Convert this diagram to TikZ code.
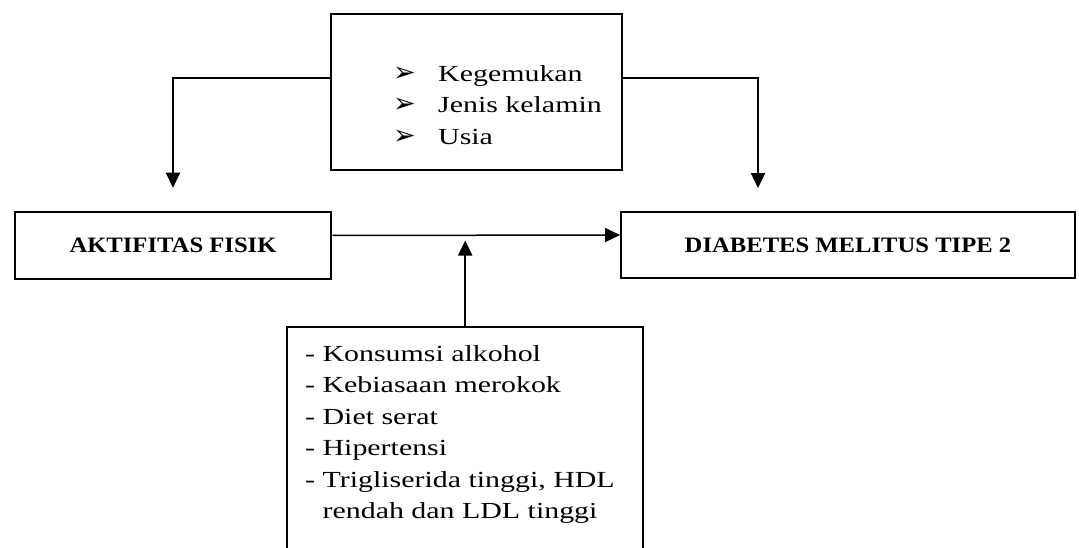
\documentclass[tikz,border=0pt]{standalone}
\usepackage{fontspec}
\setmainfont{Liberation Serif}[FakeStretch=1.3]
\newfontfamily\judulfont{Liberation Serif}[FakeStretch=1.12]
\newfontfamily\panahfont{DejaVu Sans}
\usetikzlibrary{arrows.meta, positioning, calc}
\newcommand{\butir}{\makebox[45pt][l]{\panahfont\fontsize{27}{27}\selectfont ➢}}

\begin{document}
\begin{tikzpicture}[
    x=1pt, y=-1pt,
    kotak/.style={rectangle, draw=black, line width=2pt, inner sep=0pt},
    judul/.style={font=\judulfont\bfseries\fontsize{22}{26}\selectfont},
    daftar/.style={align=left, inner sep=0pt, anchor=north west,
                   font=\fontsize{23}{31.5}\selectfont},
    panah/.style={-{Triangle[length=15pt, width=14pt]}, line width=2pt}
]
\useasboundingbox (0,0) rectangle (1079,548);

% Boxes
\node[kotak, minimum width=291pt, minimum height=156pt] (tetap) at (476.5,92) {};
\node[daftar] (daftarTetap) at (393,65) {\butir Kegemukan\\ \butir Jenis kelamin\\ \butir Usia};

\node[kotak, judul, line width=2.5pt, minimum width=316pt, minimum height=67pt] (aktif) at (173,245.5) {AKTIFITAS FISIK};
\node[kotak, judul, line width=1.8pt, minimum width=454pt, minimum height=66pt] (diabetes) at (848,245) {DIABETES MELITUS TIPE 2};

% Bottom box, open at the bottom
\node[minimum width=356pt, minimum height=221pt, inner sep=0pt, anchor=north west] (lain) at (287,327) {};
\draw[line width=2pt] (lain.south west) |- (lain.north east) -- (lain.south east);
\node[daftar] (daftarLain) at (305,345) {- Konsumsi alkohol\\ - Kebiasaan merokok\\ - Diet serat\\ - Hipertensi\\ - Trigliserida tinggi, HDL\\ \phantom{- }rendah dan LDL tinggi};

% Arrows
\draw[panah, line width=1.5pt] ([yshift=10pt]aktif.east) -- ([yshift=10pt]diabetes.west);
\draw[panah] (lain.north) -- ($(lain.north |- aktif.east)+(0,-5)$);
\draw[panah, shorten >=23pt] ([yshift=14pt]tetap.west) -| (aktif.north);
\draw[panah, shorten >=23pt] ([yshift=14pt]tetap.east) -| ([xshift=-90pt]diabetes.north);
\end{tikzpicture}
\end{document}
